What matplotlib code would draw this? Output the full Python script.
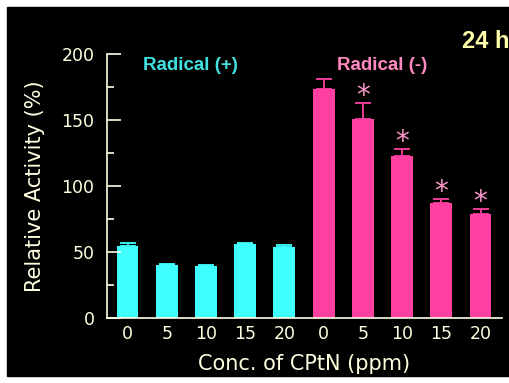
import matplotlib
matplotlib.use("Agg")
import matplotlib.pyplot as plt
from matplotlib.patches import Rectangle
from matplotlib.ticker import MultipleLocator

# values
conc_labels = ["0", "5", "10", "15", "20", "0", "5", "10", "15", "20"]
rad_plus = [54.8, 39.9, 39.2, 56.0, 53.5]
err_plus = [2.2, 1.2, 1.2, 0.8, 1.8]
rad_minus = [173.5, 150.5, 123.0, 86.9, 78.5]
err_minus = [7.8, 12.5, 5.0, 3.5, 4.1]
signif_minus = [False, True, True, True, True]

cyan = "#40ffff"
pink = "#ff40a0"
cream = "#ffffe0"

plt.rcParams["font.family"] = ["DejaVu Sans"]

fig = plt.figure(figsize=(5.1, 3.83), dpi=100, facecolor="white")
fig.patches.append(Rectangle((7 / 510, 7 / 383), 503 / 510, 369 / 383,
                             transform=fig.transFigure, color="black", zorder=-5))

ax = fig.add_axes([107 / 510, 65 / 383, 395 / 510, 264 / 383])
ax.set_zorder(2)
ax.patch.set_alpha(0)

x_plus = list(range(5))
x_minus = list(range(5, 10))
ax.bar(x_plus, rad_plus, width=0.56, color=cyan, yerr=[[0] * 5, err_plus],
       error_kw=dict(ecolor=cyan, capsize=6, elinewidth=1.3, capthick=1.3))
ax.bar(x_minus, rad_minus, width=0.56, color=pink, yerr=[[0] * 5, err_minus],
       error_kw=dict(ecolor=pink, capsize=6, elinewidth=1.3, capthick=1.3))

for xi, v, e, s in zip(x_minus, rad_minus, err_minus, signif_minus):
    if s:
        ax.annotate("*", (xi, v + e), xytext=(0, -5), textcoords="offset points",
                    ha="center", va="bottom", color="#ff99cc", fontsize=20,
                    family="DejaVu Sans")

ax.set_xlim(-0.523, 9.548)
ax.set_ylim(0, 200)
ax.yaxis.set_major_locator(MultipleLocator(50))
ax.yaxis.set_minor_locator(MultipleLocator(25))
ax.set_xticks(range(10))
ax.set_xticklabels(conc_labels)

for side in ["top", "right"]:
    ax.spines[side].set_visible(False)
for side in ["left", "bottom"]:
    ax.spines[side].set_color(cream)
    ax.spines[side].set_linewidth(1.2)

ax.tick_params(axis="y", which="major", direction="in", length=10, width=1.2,
               color=cream, labelcolor=cream, labelsize=12.5, pad=9)
ax.tick_params(axis="y", which="minor", direction="in", length=5, width=1.2, color=cream)
ax.tick_params(axis="x", length=0, labelcolor=cream, labelsize=12.5, pad=5)

ax.set_ylabel("Relative Activity (%)", color=cream, fontsize=15, labelpad=12)
ax.set_xlabel("Conc. of CPtN (ppm)", color=cream, fontsize=15, labelpad=8)

fig.text(190 / 510, 1 - 65 / 383, "Radical (+)", color="#40e0e0", fontsize=13.5,
         fontweight="bold", ha="center", va="center", family="Liberation Sans")
fig.text(382 / 510, 1 - 65 / 383, "Radical (-)", color="#ff88c0", fontsize=13.5,
         fontweight="bold", ha="center", va="center", family="Liberation Sans")
fig.text(462 / 510, 1 - 42 / 383, "24 h", color="#ffffaa", fontsize=17,
         fontweight="bold", ha="left", va="center", family="Liberation Sans")

fig.savefig("out.png", dpi=100, facecolor="white")
